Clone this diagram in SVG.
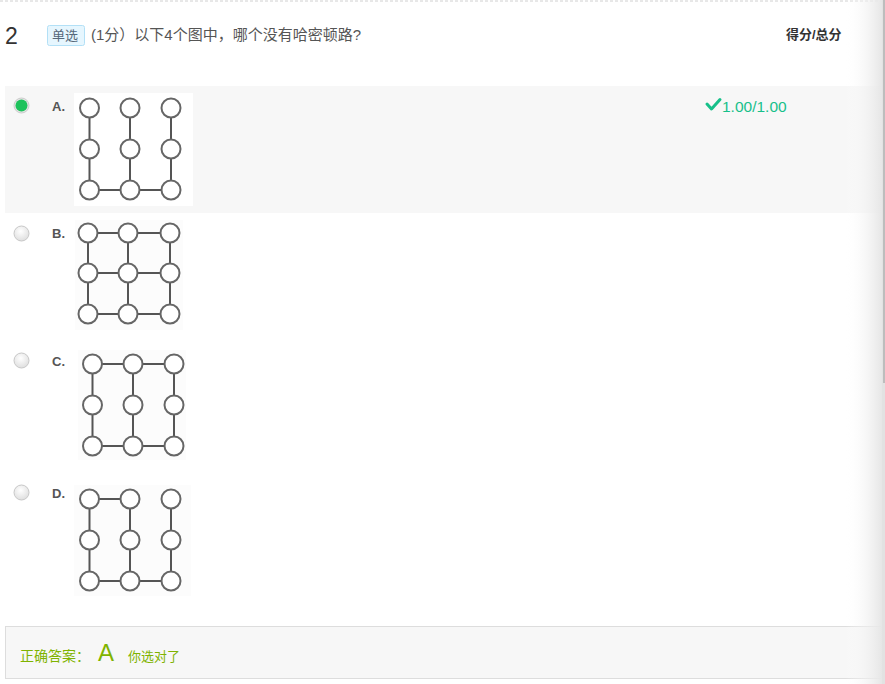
<svg xmlns="http://www.w3.org/2000/svg" width="885" height="684" viewBox="0 0 885 684">
<defs>
<style>
.t{font-family:"Liberation Sans","Noto Sans CJK SC",sans-serif}
.lbl{font-family:"Liberation Sans",sans-serif;font-weight:bold;font-size:13px;fill:#555}
.v{fill:#fff;stroke:#666;stroke-width:2}
.e{stroke:#555;stroke-width:2;fill:none}
.rad{fill:url(#rg);stroke:#c8c8c8;stroke-width:1}
</style>
<radialGradient id="rg" cx="0.45" cy="0.35" r="0.7">
<stop offset="0" stop-color="#ffffff"/>
<stop offset="1" stop-color="#dcdcdc"/>
</radialGradient>
<linearGradient id="edge" x1="0" y1="0" x2="1" y2="0">
<stop offset="0" stop-color="#ffffff" stop-opacity="0"/>
<stop offset="1" stop-color="#e6e6e6"/>
</linearGradient>
</defs>
<rect width="885" height="684" fill="#fff"/>
<line x1="0" y1="1" x2="885" y2="1" stroke="#d0d0d0" stroke-dasharray="3 2"/>

<g id="header">
<text class="t" x="5" y="44" font-size="23" fill="#333">2</text>
<rect x="47.5" y="25.5" width="37" height="20" fill="#e6f6fe" stroke="#b3e0f6" rx="2"/>
<text class="t" x="52" y="40" font-size="13" fill="#56687a">单选</text>
<text class="t" x="91" y="40" font-size="15" fill="#555">(1分）以下4个图中，哪个没有哈密顿路?</text>
<text class="t" x="786" y="39" font-size="13" font-weight="bold" fill="#333">得分/总分</text>
</g>

<rect x="5" y="86" width="876" height="127" fill="#f7f7f7"/>

<g id="optA">
<circle cx="21.5" cy="105.5" r="7.5" fill="#e4e4e4" stroke="#ccc"/>
<circle cx="21.5" cy="105.5" r="6" fill="#1ec25c"/>
<text class="lbl" x="52" y="111">A.</text>
<path d="M707 104 l4.5 5 l8.5 -9.5" fill="none" stroke="#17c08a" stroke-width="3" stroke-linecap="round" stroke-linejoin="round"/>
<text class="t" x="722" y="112" font-size="15.5" fill="#17c08a">1.00/1.00</text>
<rect x="74" y="93" width="119" height="113" fill="#fff"/>
<g class="connectors">
<path class="e" d="M89.5 108V190M130 108V190M171 108V190M89.5 190H171"/>
</g>
<g id="A-nodes">
<circle class="v" cx="89.5" cy="108" r="9.5"/><circle class="v" cx="130" cy="108" r="9.5"/><circle class="v" cx="171" cy="108" r="9.5"/>
<circle class="v" cx="89.5" cy="149" r="9.5"/><circle class="v" cx="130" cy="149" r="9.5"/><circle class="v" cx="171" cy="149" r="9.5"/>
<circle class="v" cx="89.5" cy="190" r="9.5"/><circle class="v" cx="130" cy="190" r="9.5"/><circle class="v" cx="171" cy="190" r="9.5"/>
</g>
</g>

<g id="optB">
<circle class="rad" cx="21.5" cy="233.5" r="7.5"/>
<text class="lbl" x="52" y="238">B.</text>
<rect x="75" y="220" width="108" height="110" fill="#fcfcfc"/>
<g class="connectors">
<path class="e" d="M88 233H170M88 273H170M88 314H170M88 233V314M128 233V314M170 233V314"/>
</g>
<g id="B-nodes">
<circle class="v" cx="88" cy="233" r="9.5"/><circle class="v" cx="128" cy="233" r="9.5"/><circle class="v" cx="170" cy="233" r="9.5"/>
<circle class="v" cx="88" cy="273" r="9.5"/><circle class="v" cx="128" cy="273" r="9.5"/><circle class="v" cx="170" cy="273" r="9.5"/>
<circle class="v" cx="88" cy="314" r="9.5"/><circle class="v" cx="128" cy="314" r="9.5"/><circle class="v" cx="170" cy="314" r="9.5"/>
</g>
</g>

<g id="optC">
<circle class="rad" cx="21.5" cy="360.5" r="7.5"/>
<text class="lbl" x="52" y="366">C.</text>
<rect x="78" y="350" width="108" height="110" fill="#fcfcfc"/>
<g class="connectors">
<path class="e" d="M92.5 364H174M92.5 446H174M92.5 364V446M133 364V446M174 364V446"/>
</g>
<g id="C-nodes">
<circle class="v" cx="92.5" cy="364" r="9.5"/><circle class="v" cx="133" cy="364" r="9.5"/><circle class="v" cx="174" cy="364" r="9.5"/>
<circle class="v" cx="92.5" cy="405" r="9.5"/><circle class="v" cx="133" cy="405" r="9.5"/><circle class="v" cx="174" cy="405" r="9.5"/>
<circle class="v" cx="92.5" cy="446" r="9.5"/><circle class="v" cx="133" cy="446" r="9.5"/><circle class="v" cx="174" cy="446" r="9.5"/>
</g>
</g>

<g id="optD">
<circle class="rad" cx="21.5" cy="492.5" r="7.5"/>
<text class="lbl" x="52" y="498">D.</text>
<rect x="74" y="485" width="117" height="111" fill="#fcfcfc"/>
<g class="connectors">
<path class="e" d="M89.5 499H130M89.5 581H171M89.5 499V581M130 499V581M171 499V581"/>
</g>
<g id="D-nodes">
<circle class="v" cx="89.5" cy="499" r="9.5"/><circle class="v" cx="130" cy="499" r="9.5"/><circle class="v" cx="171" cy="499" r="9.5"/>
<circle class="v" cx="89.5" cy="540" r="9.5"/><circle class="v" cx="130" cy="540" r="9.5"/><circle class="v" cx="171" cy="540" r="9.5"/>
<circle class="v" cx="89.5" cy="581" r="9.5"/><circle class="v" cx="130" cy="581" r="9.5"/><circle class="v" cx="171" cy="581" r="9.5"/>
</g>
</g>

<g id="answer">
<rect x="5.5" y="626.5" width="876" height="52" fill="#f7f7f7" stroke="#ddd"/>
<text class="t" x="20" y="661" font-size="14" fill="#7fb300">正确答案：</text>
<text class="t" x="98" y="661" font-size="24" fill="#7fb300">A</text>
<text class="t" x="128" y="661" font-size="13" fill="#7fb300">你选对了</text>
</g>

<rect x="845" y="0" width="37" height="684" fill="url(#edge)"/>
<rect x="882" y="0" width="3" height="684" fill="#e2e2e2"/>
<rect x="883" y="0" width="2" height="383" fill="#bdbdbd"/>
</svg>
